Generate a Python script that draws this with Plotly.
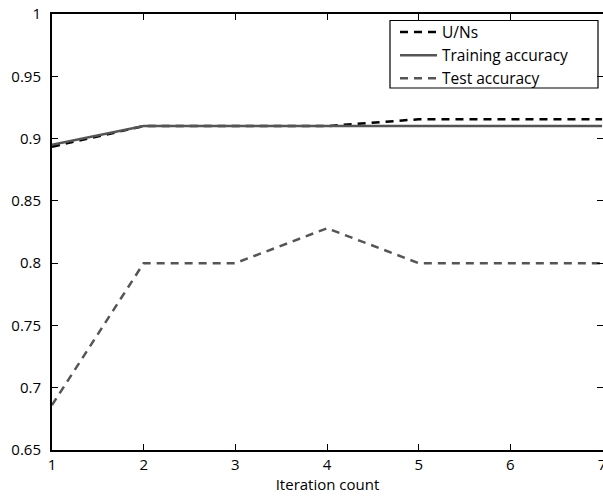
import plotly.graph_objects as go

iterations = [1, 2, 3, 4, 5, 6, 7]
uns = [0.8935, 0.910, 0.910, 0.910, 0.9155, 0.9155, 0.9155]
training = [0.895, 0.910, 0.910, 0.910, 0.910, 0.910, 0.910]
test = [0.686, 0.800, 0.800, 0.828, 0.800, 0.800, 0.800]
y_ticks = [0.65, 0.7, 0.75, 0.8, 0.85, 0.9, 0.95, 1]
y_ticklabels = ["0.65", "0.7", "0.75", "0.8", "0.85", "0.9", "0.95", "1"]
x_ticks = [1, 2, 3, 4, 5, 6, 7]

FONT = "Open Sans"
FS = 15

fig = go.Figure()
fig.add_trace(go.Scatter(x=iterations, y=uns, mode="lines", name="U/Ns",
                         line=dict(color="black", width=2.5, dash="8px,6px")))
fig.add_trace(go.Scatter(x=iterations, y=training, mode="lines", name="Training accuracy",
                         line=dict(color="#555555", width=2.5)))
fig.add_trace(go.Scatter(x=iterations, y=test, mode="lines", name="Test accuracy",
                         line=dict(color="#555555", width=2.5, dash="8px,6px")))
# invisible trace to activate the right-side tick axis
fig.add_trace(go.Scatter(x=iterations, y=training, mode="lines", yaxis="y2",
                         showlegend=False, hoverinfo="skip",
                         line=dict(color="rgba(0,0,0,0)", width=0)))

L, T, W, H = 52, 14, 551, 436
def px(x):
    return (x - L) / W
def py(y):
    return (T + H - y) / H

fig.add_shape(type="rect", xref="paper", yref="paper",
              x0=px(390), x1=px(598), y0=py(88), y1=py(20.5),
              line=dict(color="black", width=1.2), fillcolor="white", layer="below")

fig.update_layout(
    width=603, height=496,
    margin=dict(l=L, r=0, t=T, b=496 - T - H, pad=0),
    paper_bgcolor="white", plot_bgcolor="white",
    font=dict(family=FONT, size=FS, color="black"),
    xaxis=dict(range=[1, 7.01], tickvals=x_ticks, ticks="inside", ticklen=6,
               tickcolor="black", showline=True, linecolor="black", linewidth=2,
               mirror="ticks", showgrid=False, zeroline=False, automargin=False,
               ticklabeloverflow="allow",
               title=dict(text="Iteration count", standoff=2,
                          font=dict(family=FONT, size=FS))),
    yaxis=dict(range=[0.65, 1], tickvals=y_ticks, ticktext=y_ticklabels,
               ticks="inside", ticklen=6, tickcolor="black", showline=True,
               linecolor="black", linewidth=2, showgrid=False, zeroline=False,
               ticklabelstandoff=6, automargin=False),
    yaxis2=dict(range=[0.65, 1], tickvals=y_ticks, overlaying="y", side="right",
                ticks="inside", ticklen=6, tickcolor="black", showline=False,
                showticklabels=False, showgrid=False, zeroline=False, automargin=False),
    legend=dict(x=px(395), y=py(15.4), xanchor="left", yanchor="top",
                bgcolor="rgba(0,0,0,0)", borderwidth=0, itemwidth=37,
                font=dict(family=FONT, size=15.5), tracegroupgap=0),
    showlegend=True,
)

fig.write_html("out.html", config={"displayModeBar": False},
               post_script="document.body.style.margin='0px';")
